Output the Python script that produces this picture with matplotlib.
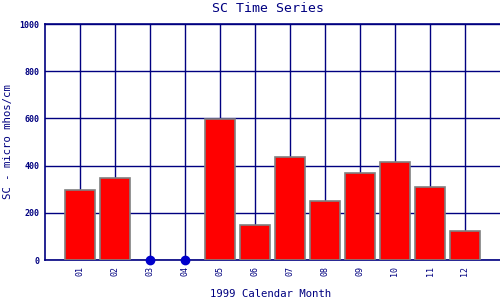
import matplotlib
matplotlib.use('Agg')
import matplotlib.pyplot as plt
import numpy as np

months = ['01', '02', '03', '04', '05', '06', '07', '08', '09', '10', '11', '12']
sc_values = [297, 346, None, None, 597, 147, 436, 249, 367, 414, 308, 123]

navy = '#000080'


def main():
    plt.rcParams['font.family'] = ['DejaVu Sans Mono']
    fig = plt.figure(figsize=(5, 3), dpi=100)
    ax = fig.add_axes([0.09, 0.1333, 0.91, 0.7867])

    x = np.arange(1, len(months) + 1)
    bar_x = [xi for xi, v in zip(x, sc_values) if v is not None]
    bar_y = [v for v in sc_values if v is not None]
    miss_x = [xi for xi, v in zip(x, sc_values) if v is None]

    ax.bar(bar_x, bar_y, width=0.86, color='#ff0000', edgecolor='#808080',
           linewidth=1.2, zorder=3)
    ax.plot(miss_x, [0] * len(miss_x), 'o', color='#0000cc', markersize=6,
            zorder=4, clip_on=False)

    ax.set_xlim(0, 13)
    ax.set_ylim(0, 1000)
    ax.set_xticks(x)
    ax.set_xticklabels(months, rotation=90, fontsize=6, color=navy)
    ax.set_yticks([0, 200, 400, 600, 800, 1000])
    ax.set_yticklabels(['0', '200', '400', '600', '800', '1000'], fontsize=6,
                       color=navy, fontweight='bold')
    ax.tick_params(length=0, pad=4)
    ax.grid(True, color=navy, linewidth=1.0, zorder=0)
    ax.set_axisbelow(True)
    for s in ['left', 'bottom', 'top']:
        ax.spines[s].set_color(navy)
        ax.spines[s].set_linewidth(1.2)
    ax.spines['right'].set_visible(False)

    fig.text(0.535, 0.97, 'SC Time Series', fontsize=9.5, color=navy,
             ha='center', va='center')
    fig.text(0.542, 0.02, '1999 Calendar Month', fontsize=7.7, color=navy,
             ha='center', va='center')
    fig.text(0.016, 0.527, 'SC - micro mhos/cm', fontsize=7.7, color=navy,
             ha='center', va='center', rotation=90)

    plt.savefig('out.png', dpi=100)


if __name__ == "__main__":
    main()
